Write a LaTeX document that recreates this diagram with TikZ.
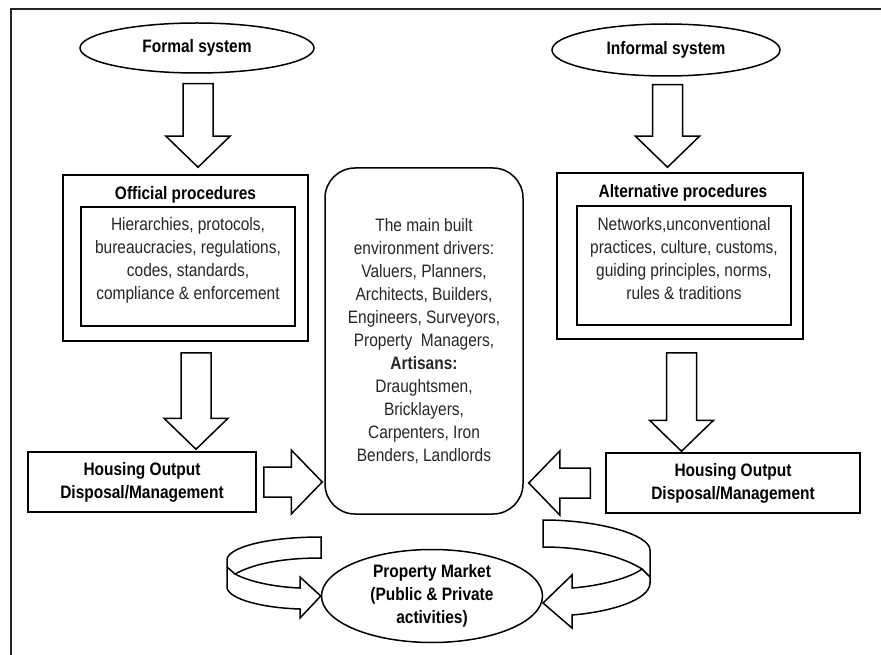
\documentclass[tikz,border=0pt]{standalone}
\usepackage{fontspec}
\setmainfont{Liberation Sans}[FakeStretch=0.86]
\usetikzlibrary{shapes.geometric,calc}

\newcommand{\diafont}{\fontsize{18}{23}\selectfont}

\tikzset{
  sysnode/.style={ellipse, draw, line width=1.5pt, inner sep=0pt, font=\diafont\bfseries, align=center},
  titletext/.style={font=\diafont\bfseries},
  procbox/.style={draw, line width=1.5pt, minimum width=245pt, minimum height=166pt},
  listbox/.style={draw, line width=1.5pt, minimum width=214pt, minimum height=119pt},
  listtext/.style={align=center, text=black!85},
  outbox/.style={draw, line width=1.5pt, minimum height=60pt, font=\diafont\bfseries, align=center},
  fat/.style={draw, line width=1.5pt, line join=miter},
  ribbon/.style={draw, line width=1.5pt, line join=miter}
}

% block arrow from #1 to #2
\newcommand{\fatarrow}[2]{%
  \coordinate (fh) at ($(#2)!31pt!(#1)$);
  \draw[fat] ($(#1)!15pt!90:(#2)$) -- ($(fh)!15pt!90:(#2)$) -- ($(fh)!32pt!90:(#2)$)
    -- (#2) -- ($(fh)!32pt!-90:(#2)$) -- ($(fh)!15pt!-90:(#2)$) -- ($(#1)!15pt!-90:(#2)$) -- cycle;}

\begin{document}
\begin{tikzpicture}[x=1pt, y=-1pt, font=\diafont]
    \useasboundingbox (0,0) rectangle (881,655);
    \draw[line width=2.6pt, black!85] (11,655) -- (11,9) -- (881,9);

    % systems
    \node[sysnode, minimum width=234pt, minimum height=50pt] (formal) at (197,48) {Formal system};
    \node[sysnode, minimum width=228pt, minimum height=52pt] (informal) at (666,50) {Informal system};

    % procedures
    \node[procbox] (official) at (185.5,258) {};
    \node[titletext] (offtitle) at (185.5,195) {Official procedures};
    \node[listbox] (offlist) at (188,266.5) {};
    \node[listtext] (offtext) at ([yshift=6pt]offlist.center) {Hierarchies, protocols,\\bureaucracies, regulations,\\codes, standards,\\compliance \& enforcement};

    \node[procbox, minimum width=246pt] (altproc) at (680,256) {};
    \node[titletext] (alttitle) at (683,193) {Alternative procedures};
    \node[listbox] (altlist) at (684,265.5) {};
    \node[listtext] (alttext) at ([yshift=6.5pt]altlist.center) {Networks,unconventional\\practices, culture, customs,\\guiding principles, norms,\\rules \& traditions};

    % drivers
    \node[draw, line width=1.5pt, rounded corners=30pt, minimum width=198pt, minimum height=346pt,
          listtext] (driver) at (424,341) {The main built\\environment drivers:\\Valuers, Planners,\\Architects, Builders,\\Engineers, Surveyors,\\Property\ \ Managers,\\\textbf{Artisans:}\\Draughtsmen,\\Bricklayers,\\Carpenters, Iron\\Benders, Landlords};

    % outputs
    \node[outbox, minimum width=228pt] (housingL) at (142,482) {Housing Output\\Disposal/Management};
    \node[outbox, minimum width=254pt] (housingR) at (733,483) {Housing Output\\Disposal/Management};

    \node[sysnode, minimum width=221pt, minimum height=93pt] (market) at (432,596) {Property Market\\(Public \& Private\\activities)};

    % block arrows
    \path (formal.south) ++(1,10) coordinate (a1s);
    \path (a1s |- official.north) ++(0,-7) coordinate (a1e);
    \path (official.south) ++(10.5,11) coordinate (a2s);
    \path (a2s |- housingL.north) ++(0,-2) coordinate (a2e);
    \path (informal.south) ++(1.5,8) coordinate (a3s);
    \path (a3s |- altproc.north) ++(0,-5) coordinate (a3e);
    \path (altproc.south) ++(1.5,13) coordinate (a4s);
    \path (a4s |- housingR.north) ++(0,-1) coordinate (a4e);
    \path (housingL.east) ++(7,0) coordinate (h1s);
    \path (driver.west |- housingL.east) ++(-2,0) coordinate (h1e);
    \path (housingR.west) ++(-15,0) coordinate (h2s);
    \path (driver.east |- housingR.west) ++(5,0) coordinate (h2e);
    \fatarrow{a1s}{a1e}
    \fatarrow{a2s}{a2e}
    \fatarrow{a3s}{a3e}
    \fatarrow{a4s}{a4e}
    \fatarrow{h1s}{h1e}
    \fatarrow{h2s}{h2e}

    % turning arrows round the market
    \draw[ribbon] (321,537) .. controls (265,537) and (227,548) .. (227,560) -- (227,588)
        .. controls (230,600) and (265,608) .. (300,609) -- (300,618) -- (market.west) -- (300,577) -- (300,588)
        .. controls (275,587) and (250,582) .. (235,574) .. controls (255,563) and (285,558) .. (321,558) -- cycle;
    \draw[ribbon] (227,567) -- (235,574);
    \draw[ribbon] (543,520) .. controls (600,520) and (650,535) .. (650,550) -- (650,583)
        .. controls (650,600) and (610,612) .. (572,615) -- (572,628) -- (543,603) -- (572,575) -- (572,588)
        .. controls (600,586) and (630,578) .. (642,569) .. controls (625,558) and (590,547) .. (543,547) -- cycle;
    \draw[ribbon] (642,569) -- (650,577);
\end{tikzpicture}
\end{document}
